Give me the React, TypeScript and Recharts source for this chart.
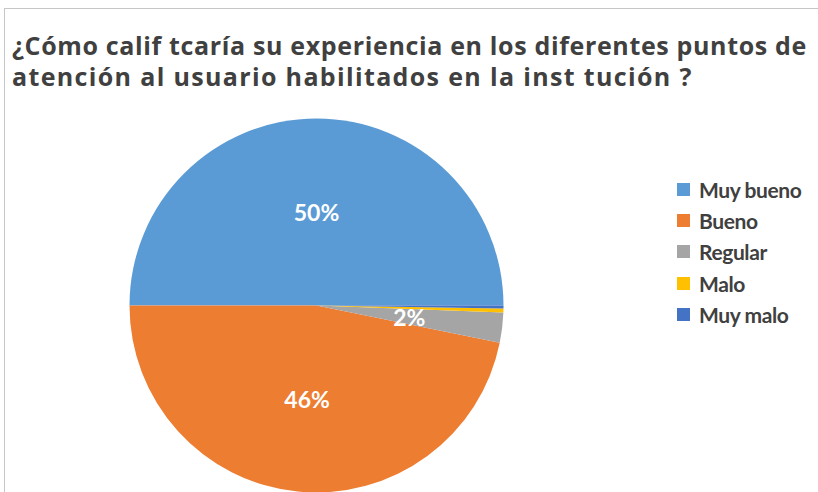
import { Pie, PieChart, Cell } from 'recharts';

const categories = ['Muy bueno', 'Bueno', 'Regular', 'Malo', 'Muy malo'];
const shares = [50, 46.8, 2.6, 0.35, 0.25];
const labelTexts = ['50%', '46%', '2%', '', ''];
const colors = ['#5B9BD5', '#ED7D31', '#A5A5A5', '#FFC000', '#4472C4'];
const titleLines = [
    '¿Cómo calif tcaría su experiencia en los diferentes puntos de',
    'atención al usuario habilitados en la inst tución ?',
];
const titleSpacing = [0.65, 1.35];

const data = categories.map((name, i) => ({ name, value: shares[i] }));

const RAD = Math.PI / 180;

const renderLabel = (props: any) => {
    const { cx, cy, midAngle, outerRadius, index } = props;
    const r = outerRadius * 0.5;
    const x = cx + r * Math.cos(-midAngle * RAD);
    const y = cy + r * Math.sin(-midAngle * RAD);
    if (!labelTexts[index]) return null;
    return (
        <text x={x} y={y} fill="#fff" textAnchor="middle" dominantBaseline="central"
            fontFamily="Lato" fontWeight="bold" fontSize={23}>
            {labelTexts[index]}
        </text>
    );
};

const App = () => {
    return (
        <div style={{ position: 'absolute', left: 0, top: 0, width: 818, height: 492, background: '#fff', overflow: 'hidden' }}>
            <div style={{ position: 'absolute', left: 4, top: 8, width: 830, height: 500, borderTop: '1px solid #c6c6c6', borderLeft: '1px solid #c6c6c6' }} />
            <div style={{ position: 'absolute', left: 12, top: 30, fontFamily: 'Open Sans', fontWeight: 'bold', fontSize: 25, lineHeight: '31px', color: '#404040', whiteSpace: 'pre' }}>
                {titleLines.map((t, i) => <div key={t} style={{ letterSpacing: titleSpacing[i] }}>{t}</div>)}
            </div>
            <div style={{ position: 'absolute', left: 0, top: 0 }}>
                <PieChart width={818} height={492} margin={{ top: 0, right: 0, bottom: 0, left: 0 }}>
                    <Pie data={data} dataKey="value" nameKey="name" cx={316.5} cy={305.5} outerRadius={187}
                        startAngle={0} endAngle={360} stroke="none" labelLine={false} label={renderLabel}
                        isAnimationActive={false}>
                        {data.map((d, i) => <Cell key={d.name} fill={colors[i]} />)}
                    </Pie>
                </PieChart>
            </div>
            <div style={{ position: 'absolute', left: 677, top: 174 }}>
                {categories.map((c, i) => (
                    <div key={c} style={{ display: 'flex', alignItems: 'center', height: 31.2 }}>
                        <div style={{ width: 13, height: 13, background: colors[i], marginRight: 9 }} />
                        <span style={{ fontFamily: 'Lato', fontWeight: 'bold', fontSize: 21, color: '#404040', letterSpacing: -0.4 }}>{c}</span>
                    </div>
                ))}
            </div>
        </div>
    );
};

export default App;
